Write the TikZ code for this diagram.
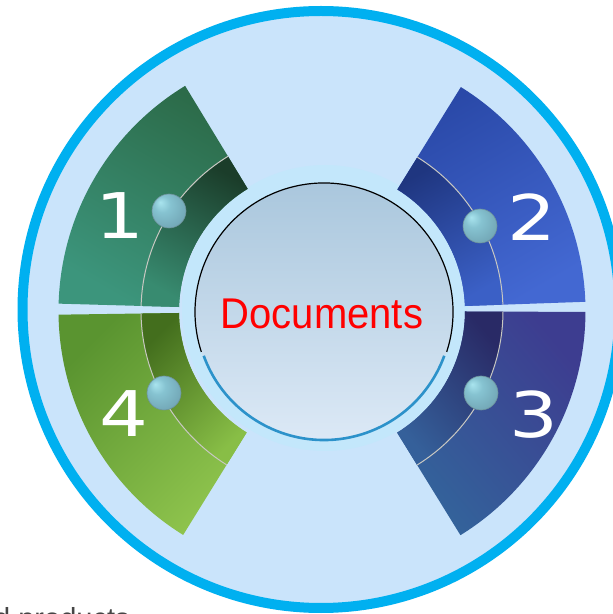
\documentclass[tikz,border=0pt]{standalone}
\usepackage{fontspec}
\usepackage{graphicx}
\newfontfamily\numfont{DejaVu Sans}
\newfontfamily\docfont{Liberation Sans}
\definecolor{ringblue}{HTML}{00B0F0}
\definecolor{bgfill}{HTML}{CAE4FB}
\definecolor{lightring}{HTML}{C3E7FB}
\definecolor{disctop}{HTML}{AAC7DD}
\definecolor{discmid}{HTML}{D0E1EF}
\definecolor{discbot}{HTML}{DCE9F6}
\definecolor{discblue}{HTML}{2C92CA}
\definecolor{ballhi}{HTML}{A9E4EE}
\definecolor{ballmid}{HTML}{86C3D1}
\definecolor{ballmidb}{HTML}{74A9B8}
\definecolor{balledge}{HTML}{5F8E9B}
\definecolor{ballline}{HTML}{6E939C}
\definecolor{sepgray}{HTML}{C8C8C2}
\definecolor{gA}{HTML}{2C6B49}\definecolor{gB}{HTML}{3C957C}
\definecolor{gbA}{HTML}{1B3D2A}\definecolor{gbB}{HTML}{388B70}
\definecolor{bA}{HTML}{2A49A8}\definecolor{bB}{HTML}{4368D2}
\definecolor{bbA}{HTML}{1F3680}\definecolor{bbB}{HTML}{3B60C6}
\definecolor{pA}{HTML}{3D3D90}\definecolor{pB}{HTML}{33649B}
\definecolor{pbA}{HTML}{292A66}\definecolor{pbB}{HTML}{35609A}
\definecolor{lA}{HTML}{5A9430}\definecolor{lB}{HTML}{8FC44D}
\definecolor{lbA}{HTML}{436E1D}\definecolor{lbB}{HTML}{88BE46}
\definecolor{textgray}{HTML}{454545}
\pgfdeclareradialshading{ballsh}{\pgfpoint{-13bp}{13bp}}{color(0bp)=(ballhi); color(12bp)=(ballmid); color(30bp)=(ballmidb); color(45bp)=(balledge); color(50bp)=(balledge)}
\newcommand\secpath[3]{(#1:143) -- (#1:#3) arc[start angle=#1, end angle=#2, radius=#3] -- (#2:143) arc[start angle=#2, end angle=#1, radius=143] -- cycle}
\begin{document}
\begin{tikzpicture}[x=1pt,y=1pt,
  ball/.style={circle, minimum size=34pt, inner sep=0pt, shade, shading=ballsh, draw=ballline, line width=0.6pt},
  numlabel/.style={inner sep=0pt, text=white, font=\numfont\fontsize{63}{63}\selectfont},
  doclabel/.style={inner sep=0pt, text=red, font=\docfont\fontsize{43}{43}\selectfont},
  sepline/.style={draw=sepgray, line width=1pt}]
\useasboundingbox (0,0) rectangle (613,614);
\clip (0,0) rectangle (613,614);
\fill[white] (0,0) rectangle (613,614);
% cut-off caption text
\node[anchor=base west, inner sep=0pt, text=textgray, font=\docfont\fontsize{29}{29}\selectfont] (cap) at (-6,-14) {d products};
% big disc with ring
\draw[fill=bgfill, draw=ringblue, line width=10pt] (321,304.5) circle[radius=298.5];
% light ring behind centre
\fill[lightring] (325,306) circle[radius=143];
% sectors
\begin{scope}[shift={(322,303)}]
  % sector 1 (green)
  \shade[top color=gA, bottom color=gB, shading angle=-30] \secpath{121.3}{178.4}{263.5};
  \shade[top color=gbA, bottom color=gbB, shading angle=-30] (121.3:143) -- (121.3:181) arc[start angle=121.3, end angle=178.4, radius=181] -- (178.4:143) arc[start angle=178.4, end angle=121.3, radius=143] -- cycle;
  \draw[sepline] (121.3:181) arc[start angle=121.3, end angle=178.4, radius=181];
  % sector 2 (blue)
  \shade[top color=bA, bottom color=bB, shading angle=30] \secpath{2.0}{58.2}{263.5};
  \shade[top color=bbA, bottom color=bbB, shading angle=30] (2.0:143) -- (2.0:181) arc[start angle=2.0, end angle=58.2, radius=181] -- (58.2:143) arc[start angle=58.2, end angle=2.0, radius=143] -- cycle;
  \draw[sepline] (2.0:181) arc[start angle=2.0, end angle=58.2, radius=181];
  % sector 3 (indigo)
  \shade[top color=pA, bottom color=pB, shading angle=-50] \secpath{-58.3}{-0.2}{263.5};
  \shade[top color=pbA, bottom color=pbB, shading angle=-50] (-58.3:143) -- (-58.3:181) arc[start angle=-58.3, end angle=-0.2, radius=181] -- (-0.2:143) arc[start angle=-0.2, end angle=-58.3, radius=143] -- cycle;
  \draw[sepline] (-58.3:181) arc[start angle=-58.3, end angle=-0.2, radius=181];
  % sector 4 (light green)
  \shade[top color=lA, bottom color=lB, shading angle=45] \secpath{180.8}{238.2}{263.5};
  \shade[top color=lbA, bottom color=lbB, shading angle=45] (180.8:143) -- (180.8:181) arc[start angle=180.8, end angle=238.2, radius=181] -- (238.2:143) arc[start angle=238.2, end angle=180.8, radius=143] -- cycle;
  \draw[sepline] (180.8:181) arc[start angle=180.8, end angle=238.2, radius=181];
\end{scope}
% centre disc
\shade[top color=disctop, middle color=discmid, bottom color=discbot] (324,302) circle[radius=129];
\draw[discblue, line width=2.6pt] (324,302) ++(200:128) arc[start angle=200, end angle=340, radius=128];
\draw[black, line width=1.2pt] (324,302) ++(-18:129) arc[start angle=-18, end angle=198, radius=129];
\node[doclabel] (doc) at (322,300) {\scalebox{0.93}[1]{Documents}};
% balls
\node[ball] (b1) at (169,403) {};
\node[ball] (b2) at (480,388) {};
\node[ball] (b3) at (481,221) {};
\node[ball] (b4) at (164,221) {};
% numbers
\node[numlabel] (n1) at (120,398) {\scalebox{1.22}[1]{1}};
\node[numlabel] (n2) at (531.5,397) {\scalebox{1.22}[1]{2}};
\node[numlabel] (n3) at (534,199.5) {\scalebox{1.22}[1]{3}};
\node[numlabel] (n4) at (123.5,200.5) {\scalebox{1.22}[1]{4}};
\end{tikzpicture}
\end{document}
